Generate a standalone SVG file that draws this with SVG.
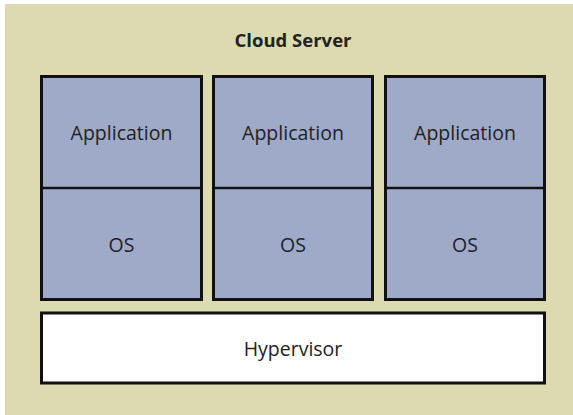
<svg xmlns="http://www.w3.org/2000/svg" width="573" height="415" viewBox="0 0 573 415">
<style>
.bg{fill:#dcdab0}
.box{fill:#9fa9c8;stroke:#111;stroke-width:3}
.hv{fill:#ffffff;stroke:#111;stroke-width:3}
.div{stroke:#111;stroke-width:2.5}
text{font-family:"Open Sans","Noto Sans",sans-serif;fill:#222;text-anchor:middle}
.t{font-size:19.5px}
.title{font-size:18.5px;font-weight:bold}
</style>
<rect class="bg" x="5" y="4" width="568" height="411"/>
<g id="title"><text class="title" x="293" y="47">Cloud Server</text></g>
<g id="vm1">
<rect class="box" x="41.5" y="76.5" width="160" height="223"/>
<line class="div" x1="41.5" y1="188" x2="201.5" y2="188"/>
<text class="t" x="121.5" y="140">Application</text>
<text class="t" x="121.5" y="252">OS</text>
</g>
<g id="vm2">
<rect class="box" x="213.5" y="76.5" width="159" height="223"/>
<line class="div" x1="213.5" y1="188" x2="372.5" y2="188"/>
<text class="t" x="293" y="140">Application</text>
<text class="t" x="293" y="252">OS</text>
</g>
<g id="vm3">
<rect class="box" x="385.5" y="76.5" width="159" height="223"/>
<line class="div" x1="385.5" y1="188" x2="544.5" y2="188"/>
<text class="t" x="465" y="140">Application</text>
<text class="t" x="465" y="252">OS</text>
</g>
<g id="hypervisor">
<rect class="hv" x="41.5" y="313" width="503" height="70"/>
<text class="t" x="293" y="356">Hypervisor</text>
</g>
<g id="connectors"/>
</svg>
